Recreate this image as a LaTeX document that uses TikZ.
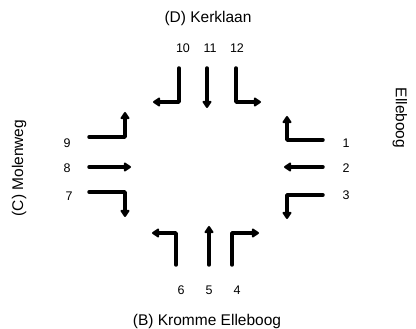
\documentclass[tikz,border=0pt]{standalone}
\usepackage{fontspec}
\setmainfont{Liberation Sans}
\usetikzlibrary{arrows.meta,calc,positioning}

\begin{document}
\begin{tikzpicture}[x=1pt,y=-1pt,
  lane/.style={line width=3.5pt,line cap=round,line join=round,-{Triangle[length=8pt,width=10pt,round]}},
  num/.style={font=\fontsize{12.5}{14}\selectfont},
  road/.style={font=\fontsize{15.5}{18}\selectfont}]
\useasboundingbox (0,0) rectangle (416,329);
% street names
\node[road] (D) at (208,18) {(D) Kerklaan};
\node[road] (B) at (207,321) {(B) Kromme Elleboog};
\node[road,rotate=90] (C) at (19,168) {(C) Molenweg};
\node[road,rotate=-90] (A) at (400,118) {Elleboog};
% top
\coordinate (s10) at (179,68);  \coordinate (e10) at (153,102);
\coordinate (s11) at (207,68);  \coordinate (e11) at (207,108);
\coordinate (s12) at (236,68);  \coordinate (e12) at (261,102);
\node[num] (n10) at (183,48) {10};
\node[num] (n11) at (210,48) {11};
\node[num] (n12) at (237,48) {12};
\draw[lane] (s10) |- (e10);
\draw[lane] (s11) -- (e11);
\draw[lane] (s12) |- (e12);
% left
\coordinate (s9) at (89,137);  \coordinate (e9) at (125,112);
\coordinate (s8) at (89,167);  \coordinate (e8) at (131,167);
\coordinate (s7) at (89,192);  \coordinate (e7) at (125,217);
\node[num] (n9) at (67,143) {9};
\node[num] (n8) at (67,168) {8};
\node[num] (n7) at (69,196) {7};
\draw[lane] (s9) -| (e9);
\draw[lane] (s8) -- (e8);
\draw[lane] (s7) -| (e7);
% right
\coordinate (s1) at (323,140);  \coordinate (e1) at (287,116);
\coordinate (s2) at (323,167);  \coordinate (e2) at (284,167);
\coordinate (s3) at (323,195);  \coordinate (e3) at (287,219);
\node[num] (n1) at (346,143) {1};
\node[num] (n2) at (346,168) {2};
\node[num] (n3) at (346,195) {3};
\draw[lane] (s1) -| (e1);
\draw[lane] (s2) -- (e2);
\draw[lane] (s3) -| (e3);
% bottom
\coordinate (s6) at (176,265);  \coordinate (e6) at (152,233);
\coordinate (s5) at (209,265);  \coordinate (e5) at (209,226);
\coordinate (s4) at (232,265);  \coordinate (e4) at (259,233);
\node[num] (n6) at (181,290) {6};
\node[num] (n5) at (209,290) {5};
\node[num] (n4) at (237,290) {4};
\draw[lane] (s6) |- (e6);
\draw[lane] (s5) -- (e5);
\draw[lane] (s4) |- (e4);
\end{tikzpicture}
\end{document}
